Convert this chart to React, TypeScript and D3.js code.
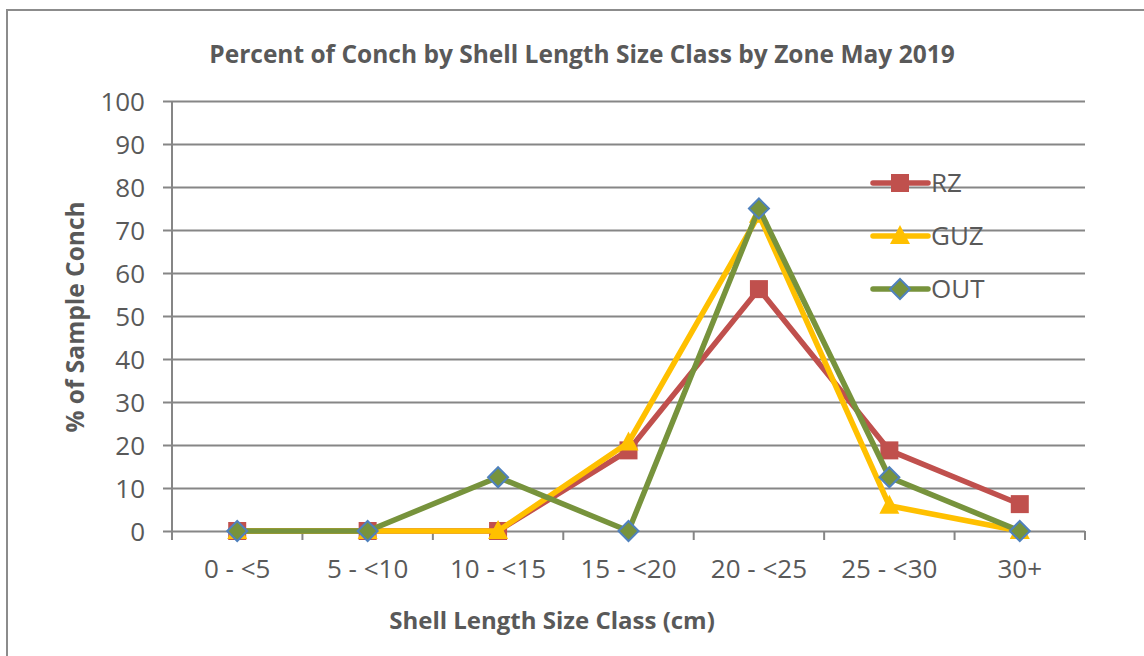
import * as d3 from 'd3';
import React, { useEffect, useRef } from 'react';

const categories = ['0 - <5', '5 - <10', '10 - <15', '15 - <20', '20 - <25', '25 - <30', '30+'];
const rzValues = [0, 0, 0, 18.75, 56.25, 18.75, 6.25];
const guzValues = [0, 0, 0, 20.59, 73.53, 5.88, 0];
const outValues = [0, 0, 12.5, 0, 75, 12.5, 0];
const yTicks = [0, 10, 20, 30, 40, 50, 60, 70, 80, 90, 100];

const series = [
  { name: 'RZ', values: rzValues, color: '#C0504D', marker: 'square' },
  { name: 'GUZ', values: guzValues, color: '#FFC000', marker: 'triangle' },
  { name: 'OUT', values: outValues, color: '#77933C', marker: 'diamond' },
];

const W = 1144;
const H = 656;
const FONT = "'Open Sans', sans-serif";
const TEXT = '#595959';
const GRID = '#868686';

const App = () => {
  const ref = useRef<SVGSVGElement>(null);

  useEffect(() => {
    const svg = d3.select(ref.current);
    svg.selectAll('*').remove();

    const left = 172;
    const right = 1085;
    const top = 101;
    const bottom = 531;

    const x = d3.scaleBand().domain(categories).range([left, right]);
    const y = d3.scaleLinear().domain([0, 100]).range([bottom, top]);
    const cx = (c: string) => (x(c) as number) + x.bandwidth() / 2;

    // outer frame (cut off at right and bottom)
    svg.append('path')
      .attr('d', `M7,${H} L7,10 L${W},10`)
      .attr('fill', 'none')
      .attr('stroke', '#8c8c8c')
      .attr('stroke-width', 2);

    // title
    svg.append('text')
      .attr('x', 582)
      .attr('y', 63)
      .attr('text-anchor', 'middle')
      .style('font-family', FONT)
      .style('font-weight', 'bold')
      .style('font-size', '24.5px')
      .attr('fill', TEXT)
      .text('Percent of Conch by Shell Length Size Class by Zone May 2019');

    // gridlines + y ticks
    const yAxis = d3.axisLeft(y).tickValues(yTicks).tickSize(-(right - left)).tickSizeOuter(0);
    const gy = svg.append('g').attr('transform', `translate(${left},0)`).call(yAxis);
    gy.select('.domain').remove();
    gy.selectAll('.tick line')
      .attr('x1', -9)
      .attr('stroke', GRID)
      .attr('stroke-width', 2);
    gy.selectAll('.tick text')
      .attr('x', -27)
      .attr('dy', '0.36em')
      .attr('fill', TEXT)
      .style('font-family', FONT)
      .style('font-size', '26px');

    // y axis line
    svg.append('line')
      .attr('x1', left).attr('x2', left)
      .attr('y1', top).attr('y2', bottom + 9)
      .attr('stroke', GRID).attr('stroke-width', 2);

    // x axis ticks at category boundaries
    const boundaries = categories.map((c) => x(c) as number).concat([right]);
    svg.selectAll('.xtick')
      .data(boundaries)
      .join('line')
      .attr('class', 'xtick')
      .attr('x1', (d) => d).attr('x2', (d) => d)
      .attr('y1', bottom).attr('y2', bottom + 9)
      .attr('stroke', GRID).attr('stroke-width', 2);

    svg.selectAll('.xlabel')
      .data(categories)
      .join('text')
      .attr('class', 'xlabel')
      .attr('x', (d) => cx(d))
      .attr('y', 578)
      .attr('text-anchor', 'middle')
      .attr('fill', TEXT)
      .style('font-family', FONT)
      .style('font-size', '26px')
      .text((d) => d);

    // axis titles
    svg.append('text')
      .attr('x', 552)
      .attr('y', 629)
      .attr('text-anchor', 'middle')
      .attr('fill', TEXT)
      .style('font-family', FONT)
      .style('font-weight', 'bold')
      .style('font-size', '24px')
      .text('Shell Length Size Class (cm)');

    svg.append('text')
      .attr('transform', 'translate(84,317) rotate(-90)')
      .attr('text-anchor', 'middle')
      .attr('fill', TEXT)
      .style('font-family', FONT)
      .style('font-weight', 'bold')
      .style('font-size', '24.5px')
      .text('% of Sample Conch');

    const drawMarker = (g: any, kind: string, px: number, py: number, color: string) => {
      if (kind === 'square') {
        g.append('rect')
          .attr('x', px - 9).attr('y', py - 9)
          .attr('width', 18).attr('height', 18)
          .attr('fill', color);
      } else if (kind === 'triangle') {
        g.append('path')
          .attr('d', `M${px},${py - 11} L${px + 10},${py + 8} L${px - 10},${py + 8} Z`)
          .attr('fill', color);
      } else {
        g.append('path')
          .attr('d', `M${px},${py - 10} L${px + 10},${py} L${px},${py + 10} L${px - 10},${py} Z`)
          .attr('fill', color)
          .attr('stroke', '#4F81BD')
          .attr('stroke-width', 2);
      }
    };

    const line = d3.line<number>()
      .x((_, i) => cx(categories[i]))
      .y((d) => y(d));

    series.forEach((s) => {
      const g = svg.append('g');
      g.append('path')
        .attr('d', line(s.values))
        .attr('fill', 'none')
        .attr('stroke', s.color)
        .attr('stroke-width', 5.5)
        .attr('stroke-linejoin', 'miter');
      s.values.forEach((v, i) => drawMarker(g, s.marker, cx(categories[i]), y(v), s.color));
    });

    // legend
    const legendY = [183, 236, 289];
    series.forEach((s, i) => {
      const g = svg.append('g');
      g.append('line')
        .attr('x1', 873).attr('x2', 928)
        .attr('y1', legendY[i]).attr('y2', legendY[i])
        .attr('stroke', s.color).attr('stroke-width', 5.5)
        .attr('stroke-linecap', 'round');
      drawMarker(g, s.marker, 900, legendY[i], s.color);
      g.append('text')
        .attr('x', 931)
        .attr('y', legendY[i] + 9)
        .attr('fill', TEXT)
        .style('font-family', FONT)
        .style('font-size', '26px')
        .text(s.name);
    });
  }, []);

  return (
    <div style={{ position: 'absolute', left: 0, top: 0 }}>
      <svg ref={ref} width={W} height={H} style={{ display: 'block', background: '#fff' }} />
    </div>
  );
};

export default App;
